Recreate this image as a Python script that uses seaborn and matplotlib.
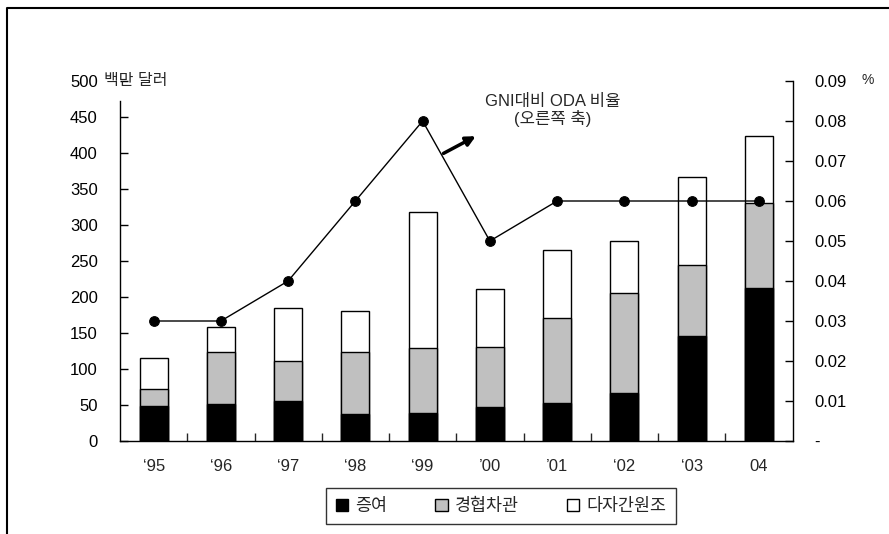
import numpy as np
import pandas as pd
import matplotlib
matplotlib.use("Agg")
import matplotlib.pyplot as plt
from matplotlib.lines import Line2D
from matplotlib.patches import Patch
import seaborn as sns

# ODA by type (million USD) and ODA/GNI ratio (%)
years = ["\u201895", "\u201896", "\u201897", "\u201898", "\u201899",
         "\u201900", "\u201901", "\u201802", "\u201803", "04"]
grants = [49, 52, 55, 37, 39, 47, 53, 66, 146, 212]          # 증여
loans = [23, 71, 56, 87, 90, 83, 118, 140, 98, 118]           # 경협차관
multilateral = [43, 35, 74, 57, 189, 81, 94, 72, 122, 93]     # 다자간원조
oda_gni_ratio = [0.03, 0.03, 0.04, 0.06, 0.08, 0.05, 0.06, 0.06, 0.06, 0.06]

left_ticks = [0, 50, 100, 150, 200, 250, 300, 350, 400, 450, 500]
right_ticks = [0, 0.01, 0.02, 0.03, 0.04, 0.05, 0.06, 0.07, 0.08, 0.09]
right_labels = ["-", "0.01", "0.02", "0.03", "0.04", "0.05", "0.06", "0.07", "0.08", "0.09"]
legend_labels = ["증여", "경협차관", "다자간원조"]

sns.set_style("white")
plt.rcParams["font.family"] = ["Liberation Sans", "Noto Sans CJK KR"]

W, H = 889, 534
fig = plt.figure(figsize=(W / 100, H / 100), dpi=100)
ax = fig.add_axes([120 / W, 1 - 441 / H, (792.5 - 120) / W, 360 / H])

df = pd.DataFrame({"year": years, "grants": grants, "loans": loans,
                   "multi": multilateral})
df["lvl2"] = df["grants"] + df["loans"]
df["lvl3"] = df["lvl2"] + df["multi"]

colors = {"lvl3": "white", "lvl2": "#c0c0c0", "grants": "black"}
for col in ["lvl3", "lvl2", "grants"]:
    sns.barplot(data=df, x="year", y=col, order=years, color=colors[col],
                saturation=1, width=0.42, edgecolor="black", linewidth=1,
                ax=ax, errorbar=None)

ax.set_xlim(-0.5, 9.5)
ax.set_ylim(0, 500)
ax.set_xlabel("")
ax.set_ylabel("")
ax.set_yticks(left_ticks)
ax.set_yticklabels([str(t) for t in left_ticks], fontsize=12)
ax.set_xticks(range(len(years)))
ax.set_xticklabels(years, fontsize=12)
ax.set_xticks(np.arange(0.5, 9, 1), minor=True)
ax.tick_params(axis="y", direction="in", length=6, width=1, left=True, pad=16, colors="black")
ax.tick_params(axis="x", which="major", length=0, pad=13)
ax.tick_params(axis="x", which="minor", direction="in", length=6, width=1, bottom=True)
ax.yaxis.get_major_ticks()[-1].tick1line.set_visible(False)
for side in ["top", "right"]:
    ax.spines[side].set_visible(False)
for side in ["left", "bottom"]:
    ax.spines[side].set_color("black")
    ax.spines[side].set_linewidth(1)
ax.spines["left"].set_bounds(0, 472)

ax2 = ax.twinx()
sns.lineplot(x=np.arange(len(years)), y=oda_gni_ratio, ax=ax2, color="black",
             linewidth=1, marker="o", markersize=7, markeredgecolor="black")
ax2.set_ylim(0, 0.09)
ax.set_xlim(-0.5, 9.5)
ax2.set_yticks(right_ticks)
ax2.set_yticklabels(right_labels, fontsize=12)
ax2.tick_params(axis="y", direction="in", length=6, width=1, right=True, pad=16, colors="black")
for side in ["top", "left", "bottom"]:
    ax2.spines[side].set_visible(False)
ax2.spines["right"].set_color("black")
ax2.spines["right"].set_linewidth(1)

# axis unit captions
fig.text(104 / W, 1 - 80 / H, "백만 달러", fontsize=11.5, ha="left", va="center")
fig.text(862 / W, 1 - 80 / H, "%", fontsize=10, ha="left", va="center")

# callout for the ratio line
ax2.annotate("", xy=(4.79, 0.0762), xytext=(4.31, 0.0719),
             arrowprops=dict(arrowstyle="-|>", lw=2.5, color="black",
                             mutation_scale=14, shrinkA=0, shrinkB=0))
ax2.text(5.93, 0.0826, "GNI대비 ODA 비율\n(오른쪽 축)", fontsize=12,
         ha="center", va="center", linespacing=1.05)

handles = [Patch(facecolor=c, edgecolor="black", linewidth=1)
           for c in ["black", "#c0c0c0", "white"]]
leg = fig.legend(handles, legend_labels, loc="center",
                 bbox_to_anchor=(501 / W, 1 - 506 / H), ncol=3, frameon=True,
                 fancybox=False, edgecolor="black", handlelength=0.7,
                 handleheight=0.7, handletextpad=0.4, columnspacing=2.8,
                 fontsize=12.5, borderpad=0.55, borderaxespad=0)
leg.get_frame().set_linewidth(1)

# outer frame
fig.add_artist(Line2D([7 / W, 7 / W, 1], [0, 1 - 8 / H, 1 - 8 / H],
                      transform=fig.transFigure, color="black", linewidth=1.5))

fig.savefig("out.png", dpi=100)
